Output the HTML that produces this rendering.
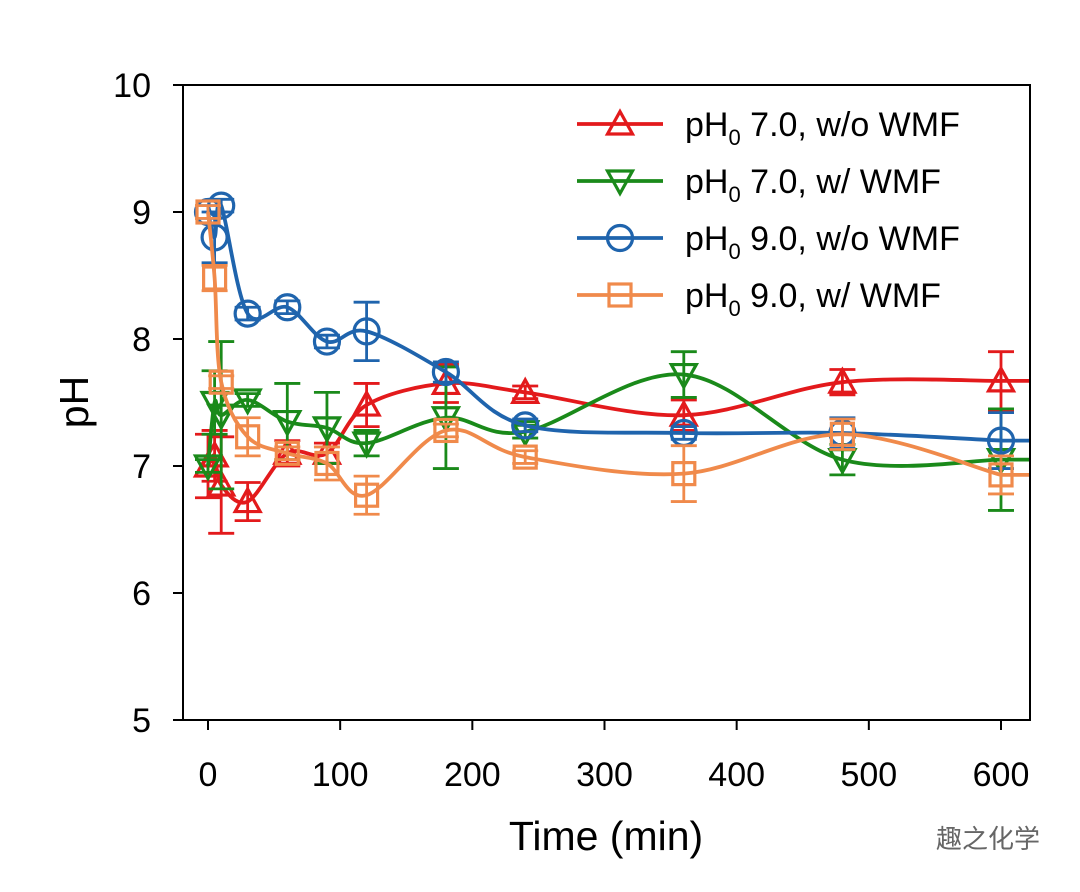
<!DOCTYPE html>
<html><head><meta charset="utf-8"><style>
body{margin:0;background:#fff}
svg text{font-family:"Liberation Sans",Arial,sans-serif;fill:#000}
</style></head><body>
<svg id="chart" width="1080" height="887" viewBox="0 0 1080 887">
<defs><clipPath id="plotclip"><rect x="183" y="85" width="847" height="635"/></clipPath></defs>
<g id="data-layer" clip-path="url(#plotclip)"></g>
<rect x="183" y="85" width="847" height="635" fill="none" stroke="#000" stroke-width="2"/>
<g id="axes"></g>
<text x="606" y="850" font-size="41" text-anchor="middle">Time (min)</text>
<text transform="translate(88,402) rotate(-90)" font-size="41" text-anchor="middle">pH</text>
<g id="legend"></g>
<text x="1040" y="848" font-size="26" text-anchor="end" style="fill:#666" font-family="Liberation Sans, Noto Sans CJK SC, sans-serif">趣之化学</text>
</svg>
<script>
const times=[0,5,10,30,60,90,120,180,240,360,480,600];
const redVals=[7.0,7.08,6.85,6.72,7.1,7.1,7.48,7.65,7.58,7.4,7.66,7.67];
const redErr=[0.25,0.2,0.38,0.15,0.1,0.08,0.17,0.15,0.05,0.12,0.1,0.23];
const greenVals=[7.0,7.5,7.4,7.52,7.35,7.3,7.18,7.38,7.27,7.72,7.05,7.05];
const greenErr=[0.05,0.25,0.58,0.05,0.3,0.28,0.1,0.4,0.05,0.18,0.12,0.4];
const blueVals=[9.0,8.8,9.05,8.2,8.25,7.98,8.06,7.74,7.32,7.26,7.26,7.2];
const blueErr=[0.05,0.2,0.05,0.05,0.05,0.05,0.23,0.08,0.05,0.05,0.12,0.22];
const orangeVals=[9.0,8.48,7.66,7.23,7.1,7.02,6.77,7.28,7.07,6.94,7.25,6.93];
const orangeErr=[0.05,0.1,0.05,0.15,0.05,0.13,0.15,0.05,0.05,0.22,0.12,0.15];
const xTicks=[0,100,200,300,400,500,600];
const yTicks=[5,6,7,8,9,10];
const X=t=>208+t*(1001-208)/600;
const Y=v=>85+(10-v)*127;
const NS="http://www.w3.org/2000/svg";
function mk(tag,attrs,parent){const e=document.createElementNS(NS,tag);for(const k in attrs)e.setAttribute(k,attrs[k]);parent.appendChild(e);return e;}
const axes=document.getElementById('axes');
xTicks.forEach(t=>{
 const l=mk('line',{x1:X(t),x2:X(t),y1:720,y2:730,stroke:'#000','stroke-width':2},axes);
 
 
 const tx=mk('text',{x:X(t),y:786,'font-size':34,'text-anchor':'middle'},axes);tx.textContent=t;
 
 
});
yTicks.forEach(v=>{
 const l=mk('line',{x1:173,x2:183,y1:Y(v),y2:Y(v),stroke:'#000','stroke-width':2},axes);
 
 
 const tx=mk('text',{x:151,y:Y(v)+12,'font-size':34,'text-anchor':'end'},axes);tx.textContent=v;
 
 
});
function spline(pts){
 let d=`M${pts[0][0]},${pts[0][1]}`;
 for(let i=0;i<pts.length-1;i++){
  const p0=pts[i-1]||pts[i],p1=pts[i],p2=pts[i+1],p3=pts[i+2]||p2;
  const c1=[p1[0]+(p2[0]-p0[0])/6,p1[1]+(p2[1]-p0[1])/6];
  const c2=[p2[0]-(p3[0]-p1[0])/6,p2[1]-(p3[1]-p1[1])/6];
  d+=` C${c1[0]},${c1[1]} ${c2[0]},${c2[1]} ${p2[0]},${p2[1]}`;
 }
 return d;
}
function marker(shape,x,y,color,parent){
 const s=12.5;let e;
 if(shape==='up')e=mk('polygon',{points:`${x},${y-s} ${x-s},${y+s*0.8} ${x+s},${y+s*0.8}`},parent);
 else if(shape==='down')e=mk('polygon',{points:`${x},${y+s} ${x-s},${y-s*0.8} ${x+s},${y-s*0.8}`},parent);
 else if(shape==='circle')e=mk('circle',{cx:x,cy:y,r:12.5},parent);
 else e=mk('rect',{x:x-11,y:y-11,width:22,height:22},parent);
 e.setAttribute('fill','none');e.setAttribute('stroke',color);e.setAttribute('stroke-width',3.2);
 
 
 return e;
}
const series=[
 {name:'ph7-without-wmf',vals:redVals,err:redErr,color:'#e31a1c',shape:'up',label:'7.0, w/o WMF'},
 {name:'ph7-with-wmf',vals:greenVals,err:greenErr,color:'#1a8a1a',shape:'down',label:'7.0, w/ WMF'},
 {name:'ph9-without-wmf',vals:blueVals,err:blueErr,color:'#1f64ad',shape:'circle',label:'9.0, w/o WMF'},
 {name:'ph9-with-wmf',vals:orangeVals,err:orangeErr,color:'#f08a4b',shape:'square',label:'9.0, w/ WMF'}
];
const layer=document.getElementById('data-layer');
series.forEach(s=>{
 const g=mk('g',{},layer);
 
 
 const pts=times.map((t,i)=>[X(t),Y(s.vals[i])]);
 const last=pts[pts.length-1];
 const p=mk('path',{d:spline(pts)+` L${last[0]+40},${last[1]}`,fill:'none',stroke:s.color,'stroke-width':3.8},g);
 
 
 times.forEach((t,i)=>{
  const x=X(t),y1=Y(s.vals[i]+s.err[i]),y2=Y(s.vals[i]-s.err[i]);
  const e=mk('path',{d:`M${x},${y1}V${y2}M${x-13},${y1}H${x+13}M${x-13},${y2}H${x+13}`,stroke:s.color,'stroke-width':2.8,fill:'none'},g);
  
  
  marker(s.shape,x,Y(s.vals[i]),s.color,g);
 });
});
const leg=document.getElementById('legend');
series.forEach((s,i)=>{
 const y=124+i*57;
 const g=mk('g',{},leg);
 
 
 mk('line',{x1:577,x2:663,y1:y,y2:y,stroke:s.color,'stroke-width':3.8},g);
 marker(s.shape,620,y,s.color,g);
 const t=mk('text',{x:685,y:y+12,'font-size':34},g);
 t.innerHTML=`pH<tspan font-size="22" dy="9">0</tspan><tspan dy="-9"> ${s.label}</tspan>`;
});
</script>
</body></html>
